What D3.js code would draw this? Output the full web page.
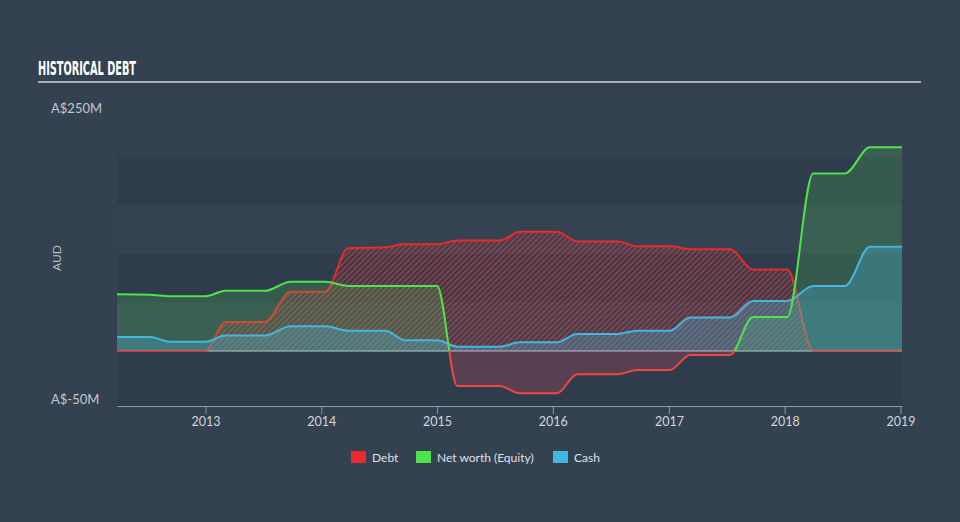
<!DOCTYPE html>
<html>
<head>
<meta charset="utf-8">
<script src="https://cdn.jsdelivr.net/npm/d3@7"></script>
<style>
  html, body { margin: 0; padding: 0; background: #344151; }
  svg { display: block; }
  text { font-family: Lato, "Open Sans", sans-serif; }
</style>
</head>
<body>
<svg id="chart" width="960" height="522"></svg>
<script>
// ---------- data (values in A$ millions) ----------
const dates = ["2012-03-28","2012-07-10","2012-09-12","2013-01-01","2013-03-05","2013-07-08",
  "2013-09-26","2014-01-14","2014-03-27","2014-07-22","2014-09-23","2015-01-01","2015-03-06",
  "2015-07-18","2015-09-19","2016-01-14","2016-03-18","2016-07-22","2016-09-23","2017-01-05",
  "2017-03-09","2017-07-13","2017-09-23","2018-01-09","2018-04-01","2018-07-10","2018-09-27","2019-01-06"];
const debt   = [0,0,0,0,30,30,61,61,106,107,110,110,114,114,123,123,113,113,108,108,105,105,84,84,0.5,0.5,0.5,0.5];
const equity = [58.5,58,56.5,56.5,62,62,71.5,71.5,67,67,67,67,-36,-36,-43.5,-43.5,-24,-24,-19.5,-19.5,-4,-4,35,35,183,183,210,210];
const cash   = [14.5,14.5,9.5,9.5,16,16,25.5,25.5,21,21,11,11,4.5,4.5,9,9,17.5,17.5,21,21,34.5,34.5,51.5,51.5,67,67,107.5,107.5];
const yTickValues = [250, -50];
const yTickLabels = ["A$250M", "A$-50M"];
const xTickYears = [2013, 2014, 2015, 2016, 2017, 2018, 2019];
const seriesNames = ["Debt", "Net worth (Equity)", "Cash"];
const seriesColors = ["#ea2a2c", "#4fe24b", "#46b7dc"];
const bandEdges = [200, 150, 100, 50, 0, -56.5];
const titleText = "HISTORICAL DEBT";
const axisTitle = "AUD";

// ---------- setup ----------
const parse = d3.timeParse("%Y-%m-%d");
const rows = dates.map((d, i) => ({ date: parse(d), debt: debt[i], equity: equity[i], cash: cash[i] }));

const svg = d3.select("#chart");
const x = d3.scaleTime()
  .domain([parse("2012-03-28"), parse("2019-01-06")])
  .range([117, 902]);
const y = d3.scaleLinear().domain([-50, 250]).range([399.5, 108.5]);

const defs = svg.append("defs");
const hatch = defs.append("pattern")
  .attr("id", "hatch").attr("patternUnits", "userSpaceOnUse")
  .attr("width", 4).attr("height", 4)
  .attr("patternTransform", "rotate(45)");
hatch.append("rect").attr("width", 2).attr("height", 4)
  .attr("fill", "#df3b40").attr("opacity", 0.52);

defs.append("clipPath").attr("id", "above")
  .append("rect").attr("x", x.range()[0]).attr("y", 0)
  .attr("width", x.range()[1] - x.range()[0]).attr("height", y(0));
defs.append("clipPath").attr("id", "below")
  .append("rect").attr("x", x.range()[0]).attr("y", y(0))
  .attr("width", x.range()[1] - x.range()[0]).attr("height", 522 - y(0));

// ---------- title ----------
svg.append("text")
  .attr("x", 38).attr("y", 75)
  .attr("textLength", 98).attr("lengthAdjust", "spacingAndGlyphs")
  .style("font-family", "'Liberation Sans Narrow', 'DejaVu Sans Condensed', sans-serif")
  .style("font-weight", "bold").style("font-size", "20px")
  .attr("fill", "#ffffff").text(titleText);
svg.append("line")
  .attr("x1", 38).attr("x2", 921).attr("y1", 82).attr("y2", 82)
  .attr("stroke", "#a9afb6").attr("stroke-width", 2);

// ---------- background bands ----------
const bands = d3.pairs(bandEdges).map((p, i) => ({ top: p[0], bottom: p[1], dark: i % 2 === 0 }));
svg.append("g").selectAll("rect").data(bands).join("rect")
  .attr("x", x.range()[0])
  .attr("width", x.range()[1] - x.range()[0])
  .attr("y", d => y(d.top))
  .attr("height", d => y(d.bottom) - y(d.top))
  .attr("fill", d => d.dark ? "#2f3c4b" : "#344252");

// ---------- generators ----------
const curve = d3.curveMonotoneX;
const area = key => d3.area().curve(curve).x(d => x(d.date)).y0(y(0)).y1(d => y(d[key]));
const line = key => d3.line().curve(curve).x(d => x(d.date)).y(d => y(d[key]));

// debt (hatched area + line)
svg.append("path").datum(rows).attr("d", area("debt")).attr("fill", "url(#hatch)");
svg.append("line")
  .attr("x1", x.range()[0]).attr("x2", x.range()[1]).attr("y1", y(0)).attr("y2", y(0))
  .attr("stroke", "#e6e6ea").attr("stroke-width", 1.2).attr("opacity", 0.85);
svg.append("path").datum(rows).attr("d", line("debt"))
  .attr("fill", "none").attr("stroke", seriesColors[0]).attr("stroke-width", 2);

// equity
svg.append("path").datum(rows).attr("d", area("equity"))
  .attr("clip-path", "url(#above)").attr("fill", "#55d85c").attr("opacity", 0.2);
svg.append("path").datum(rows).attr("d", area("equity"))
  .attr("clip-path", "url(#below)").attr("fill", "#d24a5e").attr("opacity", 0.25);

// cash area
svg.append("path").datum(rows).attr("d", area("cash"))
  .attr("fill", "#4ab8e0").attr("opacity", 0.3);

svg.append("path").datum(rows).attr("d", line("cash"))
  .attr("fill", "none").attr("stroke", seriesColors[2]).attr("stroke-width", 2);
svg.append("path").datum(rows).attr("d", line("equity"))
  .attr("clip-path", "url(#above)")
  .attr("fill", "none").attr("stroke", seriesColors[1]).attr("stroke-width", 2);
svg.append("path").datum(rows).attr("d", line("equity"))
  .attr("clip-path", "url(#below)")
  .attr("fill", "none").attr("stroke", "#ef4747").attr("stroke-width", 2);

// ---------- axes ----------
const xAxis = d3.axisBottom(x)
  .tickValues(xTickYears.map(yr => new Date(yr, 0, 1)))
  .tickFormat(d3.timeFormat("%Y"))
  .tickSize(8).tickSizeOuter(0).tickPadding(3);
const gx = svg.append("g").attr("transform", "translate(0,406)").call(xAxis);
gx.select(".domain").attr("stroke", "#8d98a4");
gx.selectAll(".tick line").attr("stroke", "#8d98a4");
gx.selectAll(".tick text").attr("fill", "#d2d6da").style("font-size", "12.5px")
  .style("font-family", "Lato, sans-serif");

const yAxis = d3.axisLeft(y).tickValues(yTickValues)
  .tickFormat((d, i) => yTickLabels[i]).tickSize(0);
const gy = svg.append("g").attr("transform", "translate(51,0)").call(yAxis);
gy.select(".domain").remove();
gy.selectAll(".tick text").attr("text-anchor", "start").attr("x", 0)
  .attr("fill", "#c3c8ce").style("font-size", "13px").style("font-family", "Lato, sans-serif");

svg.append("text")
  .attr("transform", "translate(61,258) rotate(-90)")
  .attr("text-anchor", "middle")
  .attr("fill", "#b7bdc4").style("font-size", "12px").text(axisTitle);

// ---------- legend ----------
const legendX = [351, 416, 553];
const lg = svg.append("g").selectAll("g").data(seriesNames).join("g")
  .attr("transform", (d, i) => `translate(${legendX[i]},451)`);
lg.append("rect").attr("width", 15).attr("height", 12)
  .attr("fill", (d, i) => seriesColors[i]);
lg.append("text").attr("x", 21).attr("y", 10.5)
  .attr("fill", "#dde1e5").style("font-size", "12px").text(d => d);
</script>
</body>
</html>
